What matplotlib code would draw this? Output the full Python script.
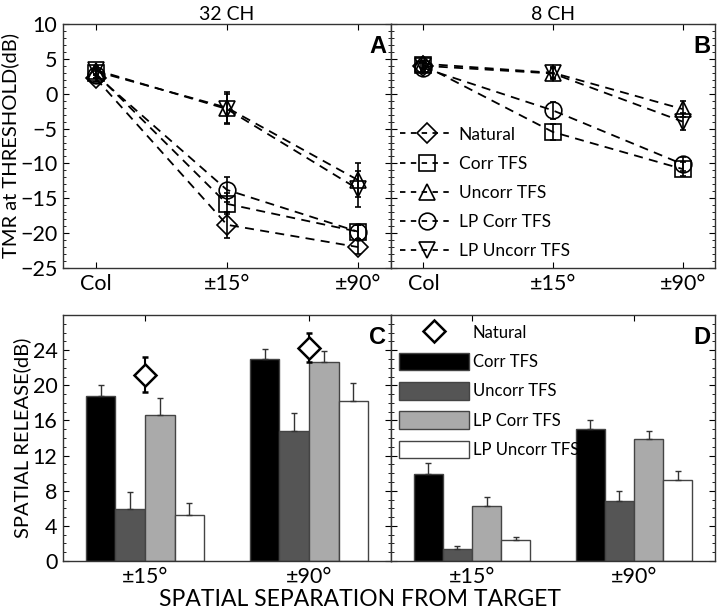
import numpy as np
import matplotlib
matplotlib.use("Agg")
import matplotlib.pyplot as plt
from matplotlib.lines import Line2D
from matplotlib.patches import Patch
from matplotlib.ticker import AutoMinorLocator

plt.rcParams['font.family'] = ['Lato', 'DejaVu Sans']

# top panels: TMR at threshold
positions = ["Col", "±15°", "±90°"]
series = ["Natural", "Corr TFS", "Uncorr TFS", "LP Corr TFS", "LP Uncorr TFS"]
markers = ['D', 's', '^', 'o', 'v']

tmr_32 = {
    "Natural":       [2.2, -18.8, -22.0],
    "Corr TFS":      [2.9, -15.8, -19.8],
    "Uncorr TFS":    [3.2, -2.0, -12.4],
    "LP Corr TFS":   [2.7, -13.8, -19.8],
    "LP Uncorr TFS": [3.4, -2.2, -13.7],
}
err_32 = {
    "Natural":       [0.5, 1.9, 1.0],
    "Corr TFS":      [0.6, 1.5, 1.0],
    "Uncorr TFS":    [0.5, 2.2, 2.4],
    "LP Corr TFS":   [0.5, 1.8, 1.0],
    "LP Uncorr TFS": [0.6, 2.1, 2.6],
}
tmr_8 = {
    "Natural":       [4.0, np.nan, np.nan],
    "Corr TFS":      [4.1, -5.5, -10.8],
    "Uncorr TFS":    [4.3, 3.0, -2.2],
    "LP Corr TFS":   [3.7, -2.4, -10.1],
    "LP Uncorr TFS": [4.0, 2.9, -4.0],
}
err_8 = {
    "Natural":       [0.4, 0.0, 0.0],
    "Corr TFS":      [0.4, 1.2, 1.0],
    "Uncorr TFS":    [0.4, 0.8, 1.2],
    "LP Corr TFS":   [0.4, 1.2, 1.0],
    "LP Uncorr TFS": [0.4, 0.8, 1.2],
}

# bottom panels: spatial release
separations = ["±15°", "±90°"]
bar_series = ["Corr TFS", "Uncorr TFS", "LP Corr TFS", "LP Uncorr TFS"]
bar_colors = ['#000000', '#555555', '#aaaaaa', '#ffffff']
rel_32 = [[18.8, 23.0], [5.9, 14.8], [16.6, 22.6], [5.2, 18.2]]
rel_32_err = [[1.2, 1.1], [1.9, 2.1], [1.9, 1.3], [1.4, 2.1]]
nat_32 = [21.2, 24.3]
nat_32_err = [2.0, 1.6]
rel_8 = [[9.9, 15.0], [1.4, 6.8], [6.3, 13.9], [2.4, 9.2]]
rel_8_err = [[1.2, 1.1], [0.3, 1.2], [1.0, 0.9], [0.3, 1.0]]

fig = plt.figure(figsize=(7.2, 6.14), dpi=100)

W, H = 720.0, 614.0
def ax_at(x0, y0, x1, y1):
    return fig.add_axes([x0 / W, 1 - y1 / H, (x1 - x0) / W, (y1 - y0) / H])

axA = ax_at(63, 24, 391, 268)
axB = ax_at(391, 24, 715, 268)
axC = ax_at(63, 315, 391, 561)
axD = ax_at(391, 315, 715, 561)

def style(ax, minor):
    ax.tick_params(direction='in', top=True, right=True, length=4, labelsize=15.5,
                   width=0.8, pad=4)
    ax.tick_params(which='minor', direction='in', left=True, right=True, length=2)
    ax.yaxis.set_minor_locator(AutoMinorLocator(minor))
    for s in ax.spines.values():
        s.set_color('#333333')
        s.set_linewidth(1.0)

x = np.arange(1, 4)
for ax, data, err in [(axA, tmr_32, err_32), (axB, tmr_8, err_8)]:
    for name, m in zip(series, markers):
        ax.errorbar(x, data[name], yerr=err[name], color='black', ls=(0, (5, 3.5)),
                    lw=1.3, marker=m, ms=12 if m != 'D' else 10.5, mfc='none', mec='black',
                    mew=1.2, capsize=2.5, elinewidth=1.2)
    ax.set_xlim(0.75, 3.25)
    ax.set_ylim(-25, 10)
    ax.set_xticks(x)
    ax.set_xticklabels(positions)
    ax.set_yticks(np.arange(-25, 11, 5))
    style(ax, 5)
    ax.set_xticks([], minor=True)

axA.set_yticklabels(["−25", "−20", "−15", "−10", "−5", "0", "5", "10"])
axB.set_yticklabels([])
axA.set_title("32 CH", fontsize=14, pad=3)
axB.set_title("8 CH", fontsize=14, pad=3)
axA.set_ylabel("TMR at THRESHOLD(dB)", fontsize=14.5, labelpad=1)

handles = [Line2D([], [], color='black', ls=(0, (3, 3)), lw=1.3, marker=m,
                  ms=12 if m != 'D' else 10.5, mfc='none', mec='black', mew=1.2)
           for m in markers]
axB.legend(handles, series, loc='lower left', frameon=False, fontsize=12.5,
           handlelength=3.1, labelspacing=0.76, borderaxespad=0.1, handletextpad=0.3,
           bbox_to_anchor=(0.0, 0.0))

bw = 0.18
offsets = [-0.27, -0.09, 0.09, 0.27]
g = np.arange(1, 3)
for ax, rel, rerr in [(axC, rel_32, rel_32_err), (axD, rel_8, rel_8_err)]:
    for i in range(4):
        ax.bar(g + offsets[i], rel[i], width=bw, color=bar_colors[i],
               edgecolor='#444444', linewidth=1.0, zorder=2)
        ax.errorbar(g + offsets[i], rel[i], yerr=[np.zeros(2), rerr[i]], fmt='none',
                    ecolor='#333333', elinewidth=1.0, capsize=2.5, zorder=3)
    ax.set_xlim(0.5, 2.5)
    ax.set_ylim(0, 28)
    ax.set_xticks(g)
    ax.set_xticklabels(separations)
    ax.set_yticks(np.arange(0, 25, 4))
    style(ax, 4)
    ax.set_xticks([], minor=True)

axC.errorbar(g, nat_32, yerr=nat_32_err, fmt='D', ms=11, mfc='white', mec='black',
             mew=1.8, ecolor='black', elinewidth=1.5, capsize=2.5, zorder=4)
axD.set_yticklabels([])
axC.set_ylabel("SPATIAL RELEASE(dB)", fontsize=14.5, labelpad=1)

bh = [Line2D([], [], ls='none', marker='D', ms=11, mfc='white', mec='black', mew=1.8)]
bh += [Patch(facecolor=c, edgecolor='#444444', linewidth=1.0) for c in bar_colors]
axD.legend(bh, ["Natural"] + bar_series, loc='upper left', frameon=False, fontsize=12,
           handlelength=4.2, handleheight=1.25, labelspacing=0.7, borderaxespad=0.1,
           handletextpad=0.2, bbox_to_anchor=(0.0, 1.0))

for ax, lab in [(axA, "A"), (axB, "B"), (axC, "C"), (axD, "D")]:
    ax.text(0.985, 0.955, lab, transform=ax.transAxes, ha='right', va='top',
            fontsize=17, fontweight='bold', family='Liberation Sans')

fig.text(0.5, 1 - 600 / H, "SPATIAL SEPARATION FROM TARGET", ha='center', va='center',
         fontsize=16.5)

fig.savefig("out.png", dpi=100)
